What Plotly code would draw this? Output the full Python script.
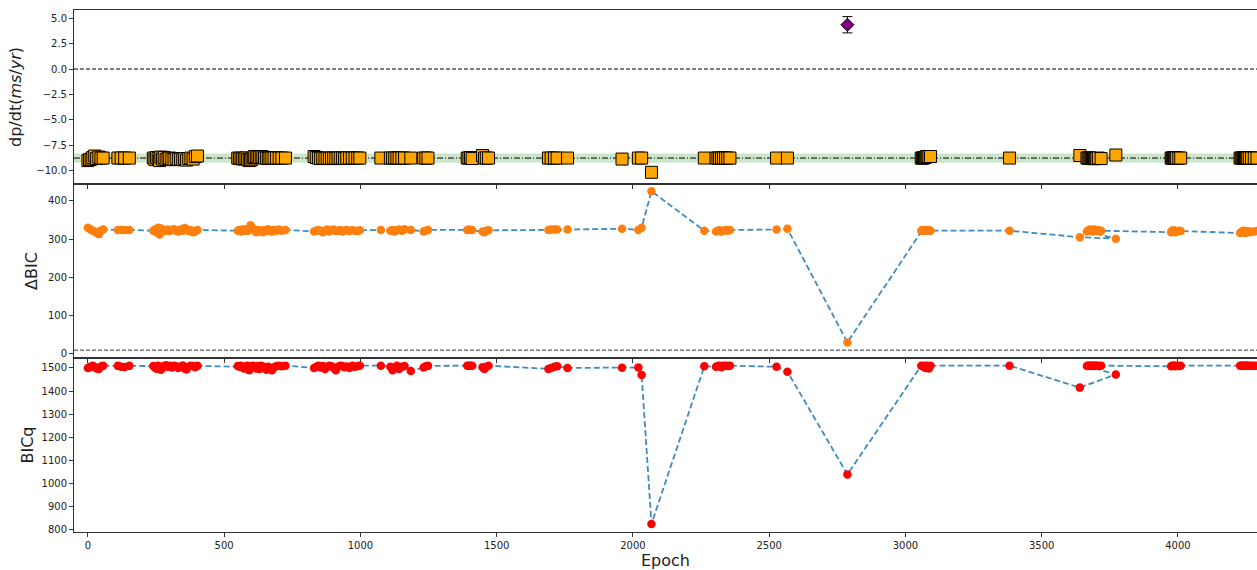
import plotly.graph_objects as go
from plotly.subplots import make_subplots

# ---------------- data ----------------
epochs = [
    0, 6, 12, 18, 25, 32, 40, 48, 56,
    110, 122, 135, 152,
    240, 246, 252, 258, 263, 268, 274, 280, 287, 294, 300, 308, 316, 324, 332, 340, 348, 355, 362, 370, 378, 386, 394, 402,
    550, 556, 562, 568, 574, 580, 586, 592, 597, 602, 607, 612, 618, 624, 630, 636, 642, 648, 655, 662, 668, 675, 683, 692, 702, 712, 725,
    830, 838, 846, 854, 862, 870, 878, 886, 894, 902, 910, 918, 926, 934, 942, 950, 960, 970, 980, 990, 998,
    1075, 1110, 1118, 1126, 1134, 1142, 1152, 1162, 1185,
    1232, 1240, 1248,
    1392, 1398, 1404, 1410, 1448, 1455, 1462, 1470,
    1690, 1700, 1712, 1722, 1760,
    1960, 2020, 2032, 2068,
    2262, 2305, 2312, 2318, 2325, 2332, 2340, 2348, 2356,
    2527, 2567,
    2787,
    3058, 3062, 3066, 3070, 3074, 3078, 3082, 3086, 3092,
    3382,
    3640, 3772,
    3666, 3670, 3674, 3678, 3682, 3686, 3690, 3694, 3698, 3702, 3708, 3718,
    3975, 3978, 3981, 3984, 3987, 3990, 3995, 4003, 4010,
    4228, 4232, 4236, 4240, 4244, 4248, 4252, 4256, 4262, 4270, 4280, 4290,
]

delta_bic = [
    330, 327, 324, 322, 320, 317, 313, 322, 325,
    324, 324, 324, 324,
    322, 325, 318, 330, 312, 328, 320, 324, 322, 325, 321, 324, 326, 322, 320, 325, 322, 329, 326, 321, 323, 318, 320, 324,
    322, 324, 320, 326, 322, 325, 321, 328, 336, 330, 325, 322, 318, 324, 320, 322, 318, 324, 321, 326, 322, 320, 324, 322, 325, 322, 324,
    320, 322, 324, 321, 318, 322, 325, 320, 323, 325, 321, 322, 324, 320, 322, 324, 321, 323, 322, 321, 323,
    324, 322, 324, 320, 323, 325, 322, 326, 324,
    320, 322, 324,
    324, 325, 324, 324, 320, 318, 322, 323,
    324, 325, 325, 325, 325,
    327, 324, 330, 425,
    322, 320, 322, 323, 320, 322, 324, 322, 324,
    325, 327,
    30,
    322, 324, 323, 322, 324, 323, 322, 324, 322,
    322,
    305, 301,
    320, 322, 324, 325, 322, 320, 323, 325, 322, 321, 323, 322,
    318, 322, 320, 323, 321, 318, 320, 322, 321,
    316, 318, 320, 322, 318, 316, 319, 321, 318, 319, 320, 321,
]

bicq = [
    1500, 1503, 1506, 1509, 1504, 1498, 1496, 1506, 1510,
    1509, 1505, 1504, 1509,
    1508, 1502, 1497, 1510, 1505, 1492, 1500, 1508, 1512, 1505, 1509, 1502, 1510, 1507, 1500, 1505, 1511, 1498, 1493, 1505, 1510, 1508, 1503, 1509,
    1508, 1505, 1510, 1502, 1498, 1507, 1510, 1490, 1505, 1508, 1510, 1503, 1498, 1508, 1495, 1510, 1506, 1500, 1492, 1505, 1497, 1490, 1503, 1508, 1510, 1507, 1510,
    1500, 1505, 1510, 1502, 1508, 1495, 1505, 1510, 1507, 1500, 1490, 1505, 1510, 1508, 1503, 1506, 1500, 1510, 1505, 1508, 1510,
    1510, 1505, 1490, 1500, 1510, 1495, 1505, 1508, 1487,
    1502, 1507, 1509,
    1510, 1510, 1510, 1510, 1503, 1495, 1505, 1510,
    1496, 1500, 1505, 1507, 1500,
    1501, 1502, 1470, 826,
    1507, 1505, 1508, 1510, 1503, 1509, 1510, 1508, 1510,
    1505, 1484,
    1040,
    1510, 1508, 1505, 1510, 1500, 1510, 1505, 1498, 1510,
    1510,
    1415, 1472,
    1508, 1510, 1509, 1510, 1508, 1510, 1509, 1510, 1508, 1510, 1509, 1510,
    1507, 1510, 1508, 1510, 1509, 1507, 1510, 1508, 1510,
    1510, 1510, 1509, 1510, 1510, 1509, 1510, 1510, 1510, 1509, 1510, 1510,
]

dpdt = [
    -9.0, -8.9, -8.85, -8.7, -8.55, -8.8, -8.65, -8.75, -8.75,
    -8.75, -8.75, -8.75, -8.75,
    -8.75, -8.9, -8.7, -8.8, -9.0, -8.65, -8.85, -8.7, -8.9, -8.8, -8.75, -8.85, -8.9, -8.8, -8.9, -8.85, -8.9, -8.8, -8.95, -8.8, -8.75, -8.85, -8.6, -8.55,
    -8.75, -8.8, -8.75, -8.85, -8.8, -8.75, -8.9, -9.0, -8.95, -8.85, -8.7, -8.6, -8.6, -8.65, -8.7, -8.6, -8.65, -8.75, -8.75, -8.8, -8.75, -8.75, -8.75, -8.75, -8.75, -8.75, -8.75,
    -8.6, -8.7, -8.75, -8.8, -8.75, -8.8, -8.75, -8.8, -8.75, -8.75, -8.8, -8.75, -8.75, -8.75, -8.8, -8.75, -8.75, -8.75, -8.75, -8.75, -8.75,
    -8.75, -8.75, -8.75, -8.75, -8.75, -8.75, -8.75, -8.75, -8.75,
    -8.75, -8.75, -8.75,
    -8.75, -8.75, -8.7, -8.8, -8.5, -8.75, -8.75, -8.75,
    -8.75, -8.75, -8.75, -8.75, -8.75,
    -8.85, -8.75, -8.75, -10.15,
    -8.75, -8.75, -8.75, -8.75, -8.75, -8.75, -8.75, -8.75, -8.75,
    -8.75, -8.75,
    4.35,
    -8.75, -8.75, -8.75, -8.7, -8.65, -8.6, -8.6, -8.6, -8.6,
    -8.75,
    -8.5, -8.45,
    -8.75, -8.75, -8.75, -8.75, -8.8, -8.8, -8.8, -8.8, -8.8, -8.8, -8.75, -8.8,
    -8.75, -8.75, -8.75, -8.75, -8.75, -8.75, -8.75, -8.75, -8.75,
    -8.75, -8.75, -8.75, -8.75, -8.75, -8.75, -8.75, -8.75, -8.75, -8.75, -8.75, -8.75,
]

outlier_err = 0.8          # error on the deviant dp/dt value
fit_dpdt = -8.75           # mean dp/dt
fit_dpdt_err = 0.45        # band half-width
zero_line = 0.0
bic_threshold = 10.0

# split dp/dt into normal and deviant points
norm_x = [e for e, d in zip(epochs, dpdt) if d < 0]
norm_y = [d for d in dpdt if d < 0]
dev_x = [e for e, d in zip(epochs, dpdt) if d >= 0]
dev_y = [d for d in dpdt if d >= 0]

# ---------------- figure ----------------
fig = make_subplots(rows=3, cols=1, shared_xaxes=True, vertical_spacing=0)

BLUE = "rgba(31,119,180,0.85)"

fig.add_trace(go.Scatter(
    x=norm_x, y=norm_y, mode="markers",
    marker=dict(symbol="square", size=12, color="#FFA500",
                line=dict(color="black", width=1)),
    showlegend=False), row=1, col=1)

fig.add_trace(go.Scatter(
    x=dev_x, y=dev_y, mode="markers",
    marker=dict(symbol="diamond", size=10, color="purple",
                line=dict(color="black", width=1)),
    error_y=dict(type="constant", value=outlier_err, color="black",
                 thickness=1, width=5),
    showlegend=False), row=1, col=1)

fig.add_trace(go.Scatter(
    x=epochs, y=delta_bic, mode="lines+markers",
    line=dict(color=BLUE, width=1.8, dash="6px,3px"),
    marker=dict(size=8.5, color="#ff7f0e"),
    showlegend=False), row=2, col=1)

fig.add_trace(go.Scatter(
    x=epochs, y=bicq, mode="lines+markers",
    line=dict(color=BLUE, width=1.8, dash="6px,3px"),
    marker=dict(size=8.5, color="red"),
    showlegend=False), row=3, col=1)

# reference lines / band
fig.add_shape(type="rect", xref="x domain", yref="y", x0=0, x1=1,
              y0=fit_dpdt - fit_dpdt_err, y1=fit_dpdt + fit_dpdt_err,
              fillcolor="rgba(0,128,0,0.2)", line_width=0, layer="below")
fig.add_shape(type="line", xref="x domain", yref="y", x0=0, x1=1,
              y0=fit_dpdt, y1=fit_dpdt,
              line=dict(color="black", width=1, dash="6px,2px,1px,2px"), layer="below")
fig.add_shape(type="line", xref="x domain", yref="y", x0=0, x1=1,
              y0=zero_line, y1=zero_line,
              line=dict(color="black", width=1, dash="4px,2px"), layer="below")
fig.add_shape(type="line", xref="x2 domain", yref="y2", x0=0, x1=1,
              y0=bic_threshold, y1=bic_threshold,
              line=dict(color="#333", width=1, dash="4px,2px"), layer="below")

FONT = "DejaVu Sans"
tickfont = dict(family=FONT, size=10, color="#222")
titlefont = dict(family=FONT, size=16, color="#222")

xcommon = dict(range=[-51, 4290], showgrid=False, zeroline=False,
               showline=True, linecolor="#333", linewidth=1, mirror=True,
               ticks="outside", ticklen=4, tickcolor="#333",
               tickvals=[0, 500, 1000, 1500, 2000, 2500, 3000, 3500, 4000],
               tickfont=tickfont)
fig.update_xaxes(**xcommon)
fig.update_xaxes(showticklabels=False, row=1, col=1)
fig.update_xaxes(showticklabels=False, row=2, col=1)
fig.update_xaxes(title=dict(text="Epoch", font=titlefont, standoff=6), row=3, col=1)

ycommon = dict(showgrid=False, zeroline=False, showline=True, linecolor="#333",
               linewidth=1, mirror=False, ticks="outside", ticklen=4,
               tickcolor="#333", tickfont=tickfont)
fig.update_yaxes(**ycommon)
fig.update_yaxes(range=[-11.3, 5.8], tickvals=[5, 2.5, 0, -2.5, -5, -7.5, -10],
                 tickformat=".1f",
                 title=dict(text="dp/dt(<i>ms</i>/<i>yr</i>)", font=titlefont, standoff=10),
                 row=1, col=1)
fig.update_yaxes(range=[-10.5, 444], tickvals=[0, 100, 200, 300, 400],
                 title=dict(text="ΔBIC", font=titlefont, standoff=6), row=2, col=1)
fig.update_yaxes(range=[791, 1543], tickvals=[800, 900, 1000, 1100, 1200, 1300, 1400, 1500],
                 title=dict(text="BICq", font=titlefont, standoff=3), row=3, col=1)

fig.update_layout(
    width=1257, height=570,
    margin=dict(l=74, r=0, t=10, b=38),
    plot_bgcolor="white", paper_bgcolor="white",
    font=dict(family=FONT),
)

fig.write_html("out.html",
               config={"displayModeBar": False},
               post_script="document.body.style.margin='0';document.body.style.overflow='hidden';")
